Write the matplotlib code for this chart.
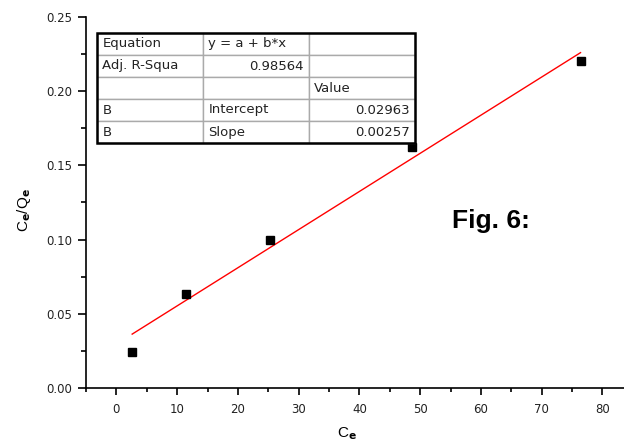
import matplotlib
matplotlib.use("Agg")
from matplotlib import pyplot as plt
import matplotlib.patches as patches
import numpy as np

plt.rcParams['font.family'] = ['Liberation Sans', 'DejaVu Sans']

# data
ce = [2.6, 11.4, 25.3, 48.7, 76.4]
ce_qe = [0.0243, 0.0635, 0.0998, 0.1625, 0.2205]

intercept = 0.02963
slope = 0.00257

table_rows = [
    ["Equation", "y = a + b*x", ""],
    ["Adj. R-Squa", "0.98564", ""],
    ["", "", "Value"],
    ["B", "Intercept", "0.02963"],
    ["B", "Slope", "0.00257"],
]

fig = plt.figure(figsize=(6.24, 4.48), dpi=100)
ax = fig.add_axes([86/624, 1-388/448, 540.7/624, 371/448])

# fitted line
xfit = np.array([min(ce), max(ce)])
ax.plot(xfit, intercept + slope*xfit, color='red', lw=1)
ax.plot(ce, ce_qe, 's', color='black', markersize=5.5, zorder=3)

ax.set_xlim(-5, 84)
ax.set_ylim(0, 0.25)
ax.set_xticks(np.arange(0, 81, 10))
ax.set_xticks(np.arange(-5, 84, 5), minor=True)
ax.set_yticks(np.arange(0, 0.251, 0.05))
ax.set_yticks(np.arange(0, 0.251, 0.025), minor=True)
ax.yaxis.set_major_formatter(matplotlib.ticker.FormatStrFormatter('%.2f'))

for s in ['top', 'right']:
    ax.spines[s].set_visible(False)
for s in ['left', 'bottom']:
    ax.spines[s].set_linewidth(1.2)

ax.tick_params(which='major', direction='out', length=6, width=1.2,
               labelsize=8.5, colors='black', pad=4)
ax.tick_params(which='minor', direction='out', length=3.5, width=1.2)
ax.tick_params(axis='x', which='major', length=5, pad=6)
ax.tick_params(axis='x', which='minor', length=3)
for lbl in ax.get_xticklabels() + ax.get_yticklabels():
    lbl.set_family('DejaVu Sans')
    lbl.set_color('#222222')

ax.set_xlabel(r'C$_\mathbf{e}$', fontsize=11)
ax.set_ylabel(r'C$_\mathbf{e}$/Q$_\mathbf{e}$', fontsize=11)
ax.xaxis.set_label_coords(0.483, -0.124)
ax.xaxis.label.set_va('center')
ax.yaxis.set_label_coords(-0.115, 0.48)
ax.yaxis.label.set_va('center')

ax.text(0.748, 0.45, 'Fig. 6:', transform=ax.transAxes, fontsize=19,
        fontweight='bold', ha='center', va='center')

# fit results table
tx, ty, tw, th = 11/540.7, (388-143)/371, 318/540.7, 110/371
tbl = ax.table(cellText=table_rows, bbox=[tx, ty, tw, th], zorder=5)
tbl.auto_set_font_size(False)
tbl.set_fontsize(9.5)
for (r, c), cell in tbl.get_celld().items():
    cell.set_edgecolor('#aaaaaa')
    cell.set_linewidth(1)
    cell.set_facecolor('white')
    txt = cell.get_text()
    txt.set_family('DejaVu Sans')
    txt.set_color('#222222')
    if (r == 1 and c == 1) or (r >= 3 and c == 2):
        cell._loc = 'right'
        txt.set_ha('right')
    else:
        cell._loc = 'left'
        txt.set_ha('left')
    cell.PAD = 0.05
border = patches.Rectangle((tx, ty), tw, th, transform=ax.transAxes,
                           fill=False, edgecolor='black', lw=1.8, zorder=6)
ax.add_patch(border)

fig.savefig('out.png', dpi=100)
